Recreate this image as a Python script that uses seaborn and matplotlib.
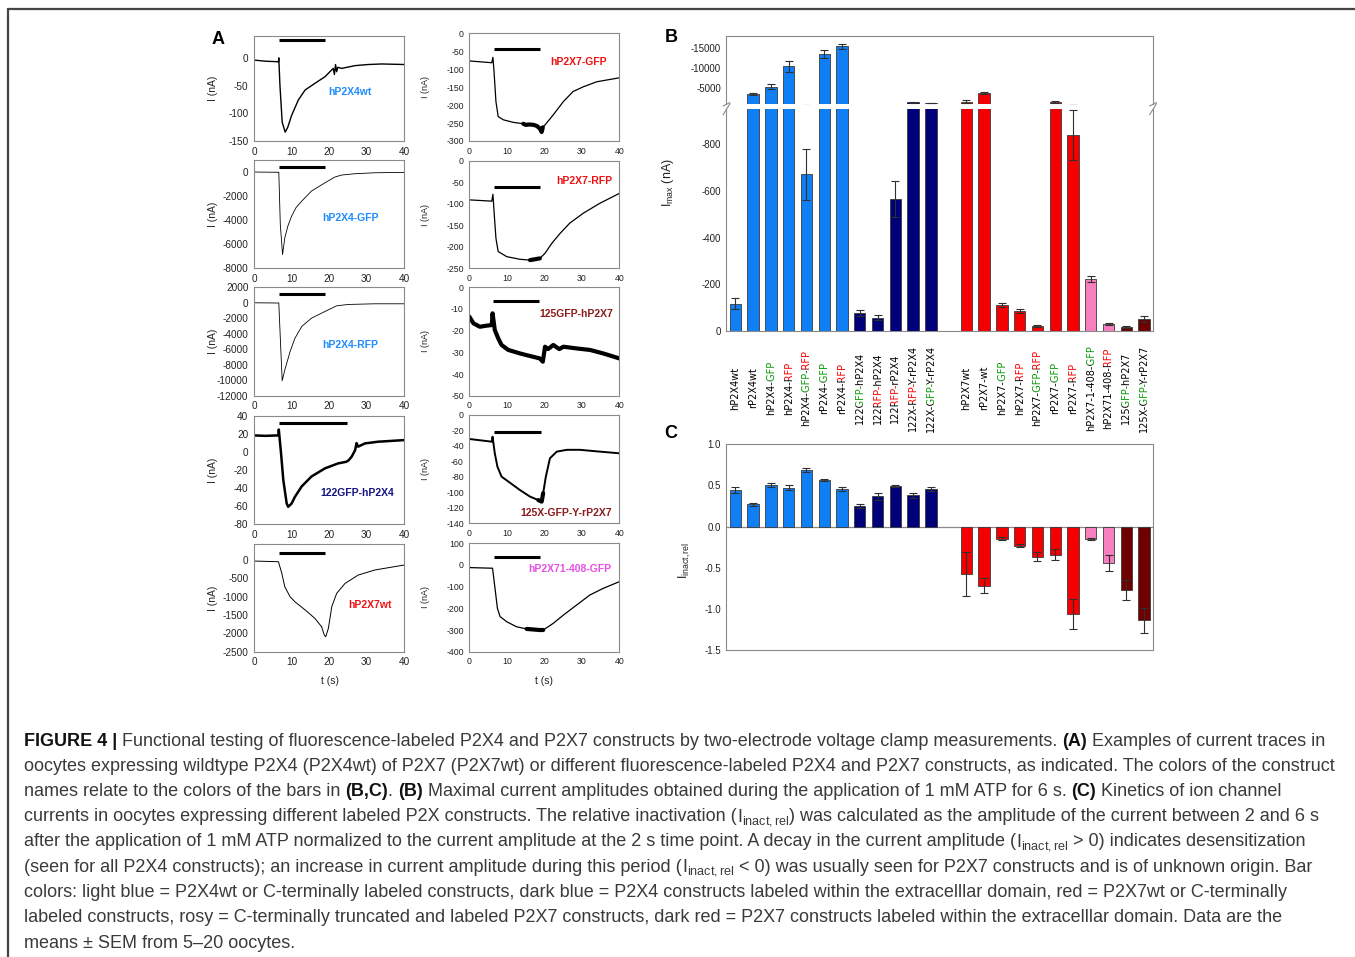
import re
import numpy as np
import pandas as pd
import matplotlib
matplotlib.use("Agg")
import matplotlib.pyplot as plt
from matplotlib.transforms import Bbox
import seaborn as sns

sns.set_style("white")
plt.rcParams['font.family'] = ['Liberation Sans', 'DejaVu Sans']
plt.rcParams['mathtext.fontset'] = 'custom'
plt.rcParams['mathtext.rm'] = 'Liberation Sans'
plt.rcParams['mathtext.it'] = 'Liberation Sans:italic'
plt.rcParams['mathtext.bf'] = 'Liberation Sans:bold'
plt.rcParams['axes.unicode_minus'] = False

# ---------------------------------------------------------------- data (A)
t_hP2X4wt = [0, 3, 6.5, 6.6, 6.9, 7.5, 8.3, 9.0, 10, 11.8, 13.6, 16.2, 18.9, 20.2, 21.1, 21.4, 21.7, 22.0, 22.3, 23.3, 26.9, 30.4, 34, 40]
i_hP2X4wt = [-4, -6, -7, 0, -49, -116, -134, -125, -104, -76, -58, -46, -34, -25, -19, -30, -12, -25, -17, -19, -14, -12, -11, -12]
t_hP2X4gfp = [0, 6.6, 7.0, 7.6, 8.2, 9.0, 10, 11.2, 12.7, 15.3, 18.9, 21.5, 23.3, 26.9, 32.2, 40]
i_hP2X4gfp = [0, -20, -4360, -6860, -5470, -4500, -3670, -2950, -2420, -1580, -890, -420, -250, -140, -60, -30]
t_hP2X4rfp = [0, 6.6, 7.1, 7.5, 8.2, 9.6, 10.9, 12.7, 15.3, 18.9, 22, 25.1, 32.2, 40]
i_hP2X4rfp = [0, -30, -5650, -10060, -8680, -6300, -4575, -3060, -1985, -1120, -390, -215, -130, -130]
t_122gfp = [0, 3, 6.5, 6.6, 7.2, 7.8, 8.7, 9.1, 10, 10.9, 12.7, 15.3, 18.9, 22.4, 24.6, 25.2, 26, 26.9, 27.3, 27.7, 29.5, 33, 40]
i_122gfp = [18.5, 18, 18.5, 25, -1.5, -31, -57, -60.6, -57, -49.5, -38, -27, -18, -12.5, -10.7, -9, -5, 2, 10, 6, 9.6, 11.5, 13.3]
t_hP2X7wt = [0, 6.5, 7.4, 8.2, 9.6, 10.9, 13.6, 16.2, 18, 18.7, 19.1, 19.8, 20.7, 22, 24.2, 27.7, 32.2, 40]
i_hP2X7wt = [-27, -45, -360, -730, -1000, -1140, -1360, -1590, -1820, -2045, -2090, -1860, -1270, -910, -640, -410, -270, -135]
t_hP2X7gfp = [0, 6, 6.3, 6.6, 7.1, 7.7, 9.1, 11.7, 14.4, 15, 16, 17.1, 18, 18.8, 19.3, 19.6, 20.2, 22.4, 25.1, 27.7, 30.4, 34, 40]
i_hP2X7gfp = [-77, -82, -67, -107, -190, -232, -241, -248, -252, -255, -254, -255, -258, -265, -275, -262, -255, -227, -190, -162, -149, -135, -124]
t_hP2X7rfp = [0, 6, 6.3, 6.6, 7.1, 7.7, 10, 13.5, 16.2, 18.8, 20.2, 22, 24.2, 26.8, 30.4, 34.8, 40]
i_hP2X7rfp = [-91, -94, -78, -118, -180, -211, -223, -229, -231, -227, -215, -192, -169, -145, -122, -99, -76]
t_125gfp = [0, 1.1, 2.8, 4.6, 6, 6.2, 6.8, 7.7, 8.6, 10.4, 13.5, 16.2, 18.8, 19.6, 20.2, 21, 22.4, 24, 25.1, 28.6, 32.2, 35.7, 40]
i_125gfp = [-13.5, -16.6, -18.2, -17.7, -17.4, -12, -19.7, -23.5, -26.6, -28.9, -30.5, -31.7, -32.8, -34.3, -27.4, -28.5, -26.6, -28.5, -27.4, -28.2, -28.9, -30.5, -32.8]
t_125x = [0, 6, 6.2, 6.8, 7.5, 8.6, 10.4, 13.5, 16.2, 18.4, 19.3, 19.7, 20.4, 21.5, 23.3, 26, 29.5, 34, 40]
i_125x = [-31, -34.5, -28, -49.5, -66.8, -79.7, -86, -97, -105.5, -110, -112, -101, -80, -56, -47.4, -45, -45, -47, -49.5]
t_h71408 = [0, 6.2, 6.8, 7.5, 8.2, 10, 12.6, 15.3, 18.8, 19.7, 22.4, 25.1, 28.6, 32.2, 35.7, 40]
i_h71408 = [-12, -15, -100, -200, -238, -262, -285, -295, -300, -300, -269, -231, -185, -138, -108, -77]

trace_names = ["hP2X4wt", "hP2X4-GFP", "hP2X4-RFP", "122GFP-hP2X4", "hP2X7wt",
               "hP2X7-GFP", "hP2X7-RFP", "125GFP-hP2X7", "125X-GFP-Y-rP2X7", "hP2X71-408-GFP"]
trace_t = [t_hP2X4wt, t_hP2X4gfp, t_hP2X4rfp, t_122gfp, t_hP2X7wt,
           t_hP2X7gfp, t_hP2X7rfp, t_125gfp, t_125x, t_h71408]
trace_i = [i_hP2X4wt, i_hP2X4gfp, i_hP2X4rfp, i_122gfp, i_hP2X7wt,
           i_hP2X7gfp, i_hP2X7rfp, i_125gfp, i_125x, i_h71408]
atp_on = [6.6, 6.6, 6.6, 6.6, 6.6, 6.6, 6.6, 6.2, 6.6, 6.6]
atp_off = [19, 19, 19, 24.7, 19, 18.8, 18.8, 18.6, 19, 18.8]
y_limits = [(-150, 40), (-8000, 1000), (-12000, 2000), (-80, 40), (-2500, 430),
            (-300, 0), (-250, 0), (-50, 0), (-140, 0), (-400, 100)]
y_ticks = [[0, -50, -100, -150], list(range(0, -8001, -2000)), list(range(2000, -12001, -2000)),
           list(range(40, -81, -20)), list(range(0, -2501, -500)),
           list(range(0, -301, -50)), list(range(0, -251, -50)), list(range(0, -51, -10)),
           list(range(0, -141, -20)), list(range(100, -401, -100))]
x_ticks = [0, 10, 20, 30, 40]

# ---------------------------------------------------------------- data (B, C)
constructs = ["hP2X4wt", "rP2X4wt", "hP2X4-GFP", "hP2X4-RFP", "hP2X4-GFP-RFP", "rP2X4-GFP", "rP2X4-RFP",
              "122GFP-hP2X4", "122RFP-hP2X4", "122RFP-rP2X4", "122X-RFP-Y-rP2X4", "122X-GFP-Y-rP2X4",
              "hP2X7wt", "rP2X7-wt", "hP2X7-GFP", "hP2X7-RFP", "hP2X7-GFP-RFP", "rP2X7-GFP", "rP2X7-RFP",
              "hP2X7-1-408-GFP", "hP2X71-408-RFP", "125GFP-hP2X7", "125X-GFP-Y-rP2X7"]
groups = ["light blue"] * 7 + ["dark blue"] * 5 + ["red"] * 7 + ["rosy"] * 2 + ["dark red"] * 2
imax = [-117, -3600, -5400, -10400, -671, -13500, -15400,
        -76, -57, -566, -1500, -1300,
        -1650, -3800, -111, -86, -21, -1600, -840,
        -223, -30, -16, -51]
imax_sem = [23, 300, 580, 1400, 108, 1030, 620,
            13, 12, 76, 80, 60,
            370, 330, 8, 8, 3, 250, 107,
            12, 4, 4, 13]
inact = [0.445, 0.27, 0.506, 0.47, 0.688, 0.571, 0.457,
         0.25, 0.368, 0.49, 0.38, 0.457,
         -0.579, -0.72, -0.146, -0.231, -0.364, -0.34, -1.06,
         -0.154, -0.445, -0.773, -1.14]
inact_sem = [0.035, 0.015, 0.02, 0.03, 0.02, 0.012, 0.03,
             0.03, 0.045, 0.015, 0.03, 0.03,
             0.27, 0.09, 0.02, 0.02, 0.06, 0.07, 0.18,
             0.01, 0.1, 0.12, 0.15]
group_colors = {"light blue": "#0f7ff5", "dark blue": "#00007a", "red": "#f50000",
                "rosy": "#f77fbf", "dark red": "#6e0000"}
tag_colors = {"GFP": "#0a9a0a", "RFP": "#ff0000"}

caption_lines = [
    "**FIGURE 4 |** Functional testing of fluorescence-labeled P2X4 and P2X7 constructs by two-electrode voltage clamp measurements. **(A)** Examples of current traces in",
    "oocytes expressing wildtype P2X4 (P2X4wt) of P2X7 (P2X7wt) or different fluorescence-labeled P2X4 and P2X7 constructs, as indicated. The colors of the construct",
    "names relate to the colors of the bars in **(B,C)**. **(B)** Maximal current amplitudes obtained during the application of 1 mM ATP for 6 s. **(C)** Kinetics of ion channel",
    r"currents in oocytes expressing different labeled P2X constructs. The relative inactivation ($\mathrm{I}_{\mathrm{inact,rel}}$) was calculated as the amplitude of the current between 2 and 6 s",
    r"after the application of 1 mM ATP normalized to the current amplitude at the 2 s time point. A decay in the current amplitude ($\mathrm{I}_{\mathrm{inact,rel}}$ > 0) indicates desensitization",
    r"(seen for all P2X4 constructs); an increase in current amplitude during this period ($\mathrm{I}_{\mathrm{inact,rel}}$ < 0) was usually seen for P2X7 constructs and is of unknown origin. Bar",
    "colors: light blue = P2X4wt or C-terminally labeled constructs, dark blue = P2X4 constructs labeled within the extracelllar domain, red = P2X7wt or C-terminally",
    "labeled constructs, rosy = C-terminally truncated and labeled P2X7 constructs, dark red = P2X7 constructs labeled within the extracelllar domain. Data are the",
    "means \u00b1 SEM from 5\u201320 oocytes.",
]

# ---------------------------------------------------------------- layout
W, H = 1355, 957
fig = plt.figure(figsize=(W / 100, H / 100), dpi=100)
R = fig.canvas.get_renderer()


def add_ax(l, t, r, b):
    return fig.add_axes([l / W, 1 - b / H, (r - l) / W, (b - t) / H])


def px(x, y):
    return x / W, 1 - y / H


def seg_width(s, **kw):
    if not s:
        return 0.0
    t1 = fig.text(0, 0, '|' + s + '|', **kw)
    t2 = fig.text(0, 0, '||', **kw)
    w = t1.get_window_extent(R).width - t2.get_window_extent(R).width
    t1.remove()
    t2.remove()
    return w


SPINE = "#8a8a8a"
TXT = "#222222"


def style_box(ax, fs):
    for s in ax.spines.values():
        s.set_visible(True)
        s.set_color(SPINE)
        s.set_linewidth(0.8)
    ax.tick_params(axis='both', which='both', direction='out', length=2.5, width=0.6,
                   color=SPINE, labelsize=fs, labelcolor=TXT, pad=1.5)


# Figure frame (top and left lines)
fig.add_artist(plt.Line2D([8 / W, 1], [1 - 8.5 / H, 1 - 8.5 / H], color="#444444", lw=1.6,
                          transform=fig.transFigure))
fig.add_artist(plt.Line2D([8 / W, 8 / W], [0, 1 - 8.5 / H], color="#444444", lw=1.6,
                          transform=fig.transFigure))

# ---------------------------------------------------------------- panel A
left_rows = [(35.7, 141), (160, 268.3), (287.3, 395.7), (416, 524.3), (544.3, 651.7)]
right_rows = [(33.3, 141), (160.7, 268.3), (287.3, 395.7), (415, 523.3), (543.3, 651.7)]
label_colors = ["#1e8cff", "#1e8cff", "#1e8cff", "#141482", "#ee1111",
                "#ee1111", "#ee1111", "#8c1a1a", "#8c1a1a", "#e650e6"]
label_pos = [(0.639, 0.468), (0.639, 0.464), (0.639, 0.468), (0.685, 0.286), (0.77, 0.435),
             (0.731, 0.736), (0.769, 0.811), (0.711, 0.754), (0.649, 0.098), (0.671, 0.76)]
bar_pos = [0.962, 0.933, 0.938, 0.935, 0.922, 0.851, 0.758, 0.874, 0.84, 0.876]
line_w = [1.0, 0.6, 0.6, 1.8, 0.7, 0.9, 0.9, 3.0, 1.4, 0.9]
noisy = [None, None, None, None, None, (14.4, 19.6), (14.4, 19.6), None, (17.5, 19.7), (15, 20)]

for k in range(10):
    if k < 5:
        top, bot = left_rows[k]
        ax = add_ax(254, top, 404.3, bot)
        fs, yl_x, yl_fs = 7.2, -0.24, 7.5
    else:
        top, bot = right_rows[k - 5]
        ax = add_ax(469.3, top, 619.3, bot)
        fs, yl_x, yl_fs = 6.3, -0.262, 6.5
    sns.lineplot(x=trace_t[k], y=trace_i[k], ax=ax, color="black", lw=line_w[k],
                 estimator=None, sort=False, errorbar=None)
    if noisy[k] is not None:
        tt = np.array(trace_t[k]); ii = np.array(trace_i[k])
        m = (tt >= noisy[k][0]) & (tt <= noisy[k][1])
        sns.lineplot(x=tt[m], y=ii[m], ax=ax, color="black", lw=3.0,
                     estimator=None, sort=False, errorbar=None)
    ax.plot([atp_on[k], atp_off[k]], [bar_pos[k], bar_pos[k]], color="black", lw=2.2,
            transform=ax.get_xaxis_transform(), solid_capstyle='butt')
    ax.set_xlim(0, 40)
    ax.set_ylim(*y_limits[k])
    ax.set_xticks(x_ticks)
    ax.set_yticks(y_ticks[k])
    ax.set_yticklabels([f"{v:g}" for v in y_ticks[k]])
    style_box(ax, fs)
    ax.set_xlabel("")
    ax.set_ylabel("I (nA)", fontsize=yl_fs, color=TXT)
    ax.yaxis.set_label_coords(yl_x, 0.5)
    ax.text(label_pos[k][0], label_pos[k][1], trace_names[k], transform=ax.transAxes,
            ha="center", va="center", fontsize=7.5, fontweight="bold", color=label_colors[k])

fig.text(*px(330, 681), "t (s)", ha="center", va="center", fontsize=7.5, color=TXT)
fig.text(*px(544, 681), "t (s)", ha="center", va="center", fontsize=7.5, color=TXT)

# ---------------------------------------------------------------- panel B
GAP = " "
order = constructs[:12] + [GAP] + constructs[12:]
pos = [order.index(c) for c in constructs]
df = pd.DataFrame({"construct": constructs, "imax": imax, "inact": inact, "group": groups})
palette = {c: group_colors[g] for c, g in zip(constructs, groups)}

XL, XR = 726.5, 1153
axBu = add_ax(XL, 35.7, XR, 104.3)
axBl = add_ax(XL, 109.3, XR, 331)
for ax in (axBu, axBl):
    sns.barplot(data=df, x="construct", y="imax", order=order, hue="construct", palette=palette,
                legend=False, width=0.64, edgecolor="#3a3a3a", linewidth=0.6, errorbar=None,
                saturation=1, ax=ax)
    ax.errorbar(pos, imax, yerr=imax_sem, fmt="none", ecolor="#303030", elinewidth=0.8,
                capsize=2.8, capthick=0.8)
    style_box(ax, 7)
    ax.set_xticks(range(len(order)))
    ax.set_xticklabels([])
    ax.tick_params(axis="x", length=0)
    ax.set_xlabel("")
    ax.set_ylabel("")
    ax.set_xlim(-0.5, len(order) - 0.5)

axBu.set_ylim(-1000, -18000)
axBu.set_yticks([-5000, -10000, -15000])
axBu.set_yticklabels(["-5000", "-10000", "-15000"])
axBu.spines["bottom"].set_visible(False)
axBl.set_ylim(0, -950)
axBl.set_yticks([0, -200, -400, -600, -800])
axBl.set_yticklabels(["0", "-200", "-400", "-600", "-800"])
axBl.spines["top"].set_visible(False)
for ax, yy in ((axBu, 0.0), (axBl, 1.0)):
    for xx in (0.0, 1.0):
        ax.plot([xx - 0.008, xx + 0.008], [yy - 0.025, yy + 0.025], transform=ax.transAxes,
                color=SPINE, lw=0.8, clip_on=False)

fig.text(*px(668, 183), r"$\mathrm{I}_{\mathrm{max}}$ (nA)", rotation=90, ha="center",
         va="center", fontsize=9, color=TXT)

# multicoloured rotated construct labels: the full label is drawn once per colour
# segment and clipped to that segment's span, so glyph spacing is exact.
lab_kw = dict(fontsize=7, family="DejaVu Sans")
yc = H - 388
for c, p in zip(constructs, pos):
    xpix = axBl.transData.transform((p, 0))[0]
    total = seg_width(c, **lab_kw)
    y_start = yc - total / 2
    bounds = [0]
    for mobj in re.finditer(r"GFP|RFP", c):
        bounds += [mobj.start(), mobj.end()]
    bounds.append(len(c))
    bounds = sorted(set(bounds))
    for i0, i1 in zip(bounds[:-1], bounds[1:]):
        seg = c[i0:i1]
        col = tag_colors.get(seg, "black")
        a = y_start - 6 if i0 == 0 else y_start + seg_width(c[:i0], **lab_kw) - 0.4
        b = y_start + total + 6 if i1 == len(c) else y_start + seg_width(c[:i1], **lab_kw) - 0.4
        tx = fig.text(xpix / W, y_start / H, c, rotation=90, rotation_mode="anchor", ha="left",
                      va="center", color=col, **lab_kw)
        tx.set_clip_box(Bbox([[xpix - 20, a], [xpix + 20, b]]))
        tx.set_clip_on(True)

# ---------------------------------------------------------------- panel C
axC = add_ax(XL, 444.3, XR, 650)
sns.barplot(data=df, x="construct", y="inact", order=order, hue="construct", palette=palette,
            legend=False, width=0.64, edgecolor="#3a3a3a", linewidth=0.6, errorbar=None,
            saturation=1, ax=axC)
axC.errorbar(pos, inact, yerr=inact_sem, fmt="none", ecolor="#303030", elinewidth=0.8,
             capsize=2.8, capthick=0.8)
axC.axhline(0, color=SPINE, lw=0.9, zorder=0.5)
style_box(axC, 7)
axC.set_xlim(-0.5, len(order) - 0.5)
axC.set_ylim(-1.5, 1.0)
cticks = [1.0, 0.5, 0.0, -0.5, -1.0, -1.5]
axC.set_yticks(cticks)
axC.set_yticklabels([f"{v:.1f}" for v in cticks])
axC.set_xticks([])
axC.set_xlabel("")
axC.set_ylabel("")
fig.text(*px(685, 560), r"$\mathrm{I}_{\mathrm{inact,rel}}$", rotation=90, ha="center",
         va="center", fontsize=9, color=TXT)

# panel letters
for letter, (x, y) in zip("ABC", [(218, 39), (671, 38), (671, 433)]):
    fig.text(*px(x, y), letter, ha="center", va="center", fontsize=13, fontweight="bold",
             color="black")

# ---------------------------------------------------------------- caption
cap_color = "#3a3a3a"
for k, line in enumerate(caption_lines):
    x = 24
    y = H - (745.5 + 25.25 * k)
    for part in re.split(r"(\*\*.*?\*\*|\$.*?\$)", line):
        if not part:
            continue
        bold = part.startswith("**")
        s = part[2:-2] if bold else part
        kw = dict(fontsize=13, fontweight="bold" if bold else "normal",
                  color="#111111" if bold else cap_color)
        fig.text(x / W, y / H, s, ha="left", va="baseline", **kw)
        x += seg_width(s, **kw)

fig.savefig("out.png", dpi=100)
